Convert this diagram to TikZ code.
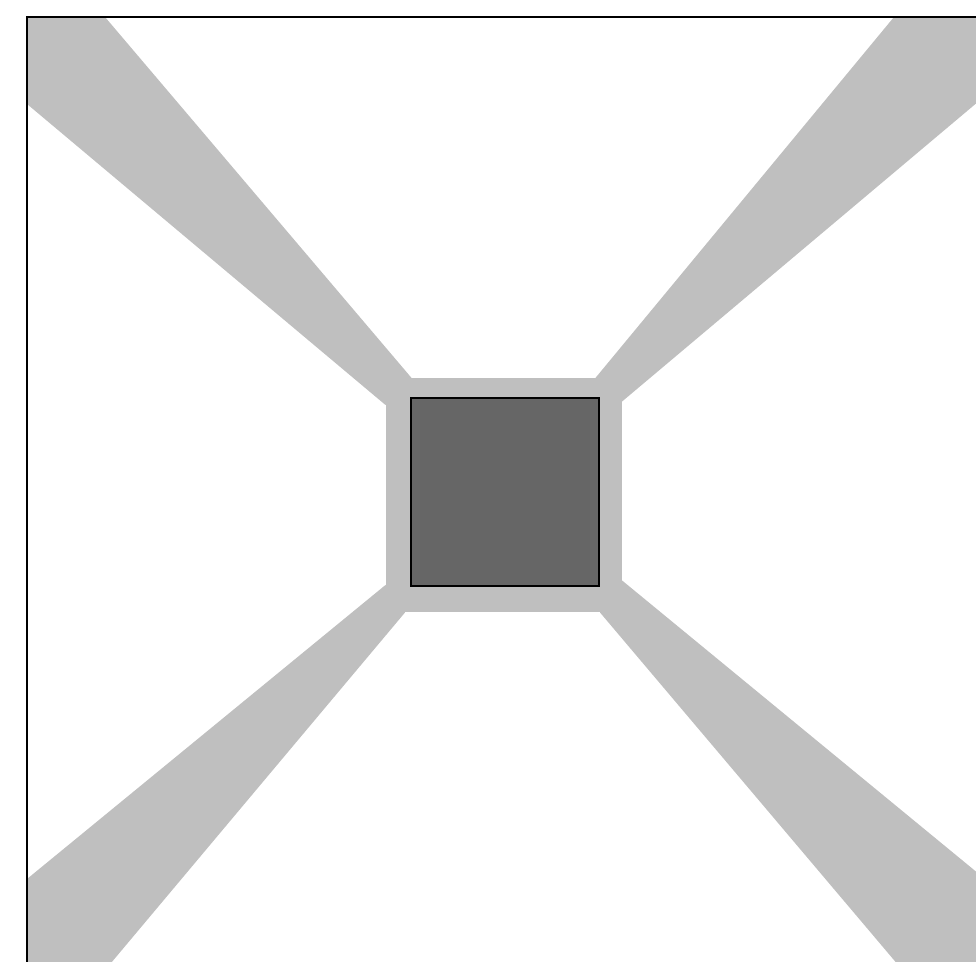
\documentclass[tikz,border=0pt]{standalone}
\usepackage{tikz}
\usetikzlibrary{calc}
\usepackage{xcolor}
\definecolor{braco}{gray}{0.75}
\definecolor{nucleo}{gray}{0.40}

\begin{document}
\begin{tikzpicture}
\useasboundingbox (-5.045,-4.705) rectangle (4.715,4.915);
\clip (-5.045,-4.705) rectangle (4.715,4.915);
% Bracos
\fill[braco] (-4.775,4.745) -- (-3.995,4.745) -- (-0.925,1.13) -- (-1.19,0.865) -- (-4.775,3.875) -- cycle; % Superior esquerdo
\fill[braco] (4.775,4.745) -- (3.895,4.745) -- (0.905,1.13) -- (1.17,0.895) -- (4.775,3.93) -- cycle; % Superior direito
\fill[braco] (-4.775,-4.745) -- (-4.775,-3.875) -- (-1.19,-0.935) -- (-0.995,-1.21) -- (-3.96,-4.745) -- cycle; % Inferior esquerdo
\fill[braco] (4.775,-4.745) -- (4.775,-3.85) -- (1.17,-0.885) -- (0.955,-1.21) -- (3.945,-4.745) -- cycle; % Inferior direito
% Moldura clara
\fill[braco] (-1.19,-1.21) rectangle (1.17,1.13);
% Quadrado central
\filldraw[fill=nucleo,draw=black,line width=0.6pt] (-0.935,-0.945) rectangle (0.945,0.935);
% Borda
\draw[line width=0.6pt] (-4.775,-4.745) rectangle (4.775,4.745);
\end{tikzpicture}
\end{document}
